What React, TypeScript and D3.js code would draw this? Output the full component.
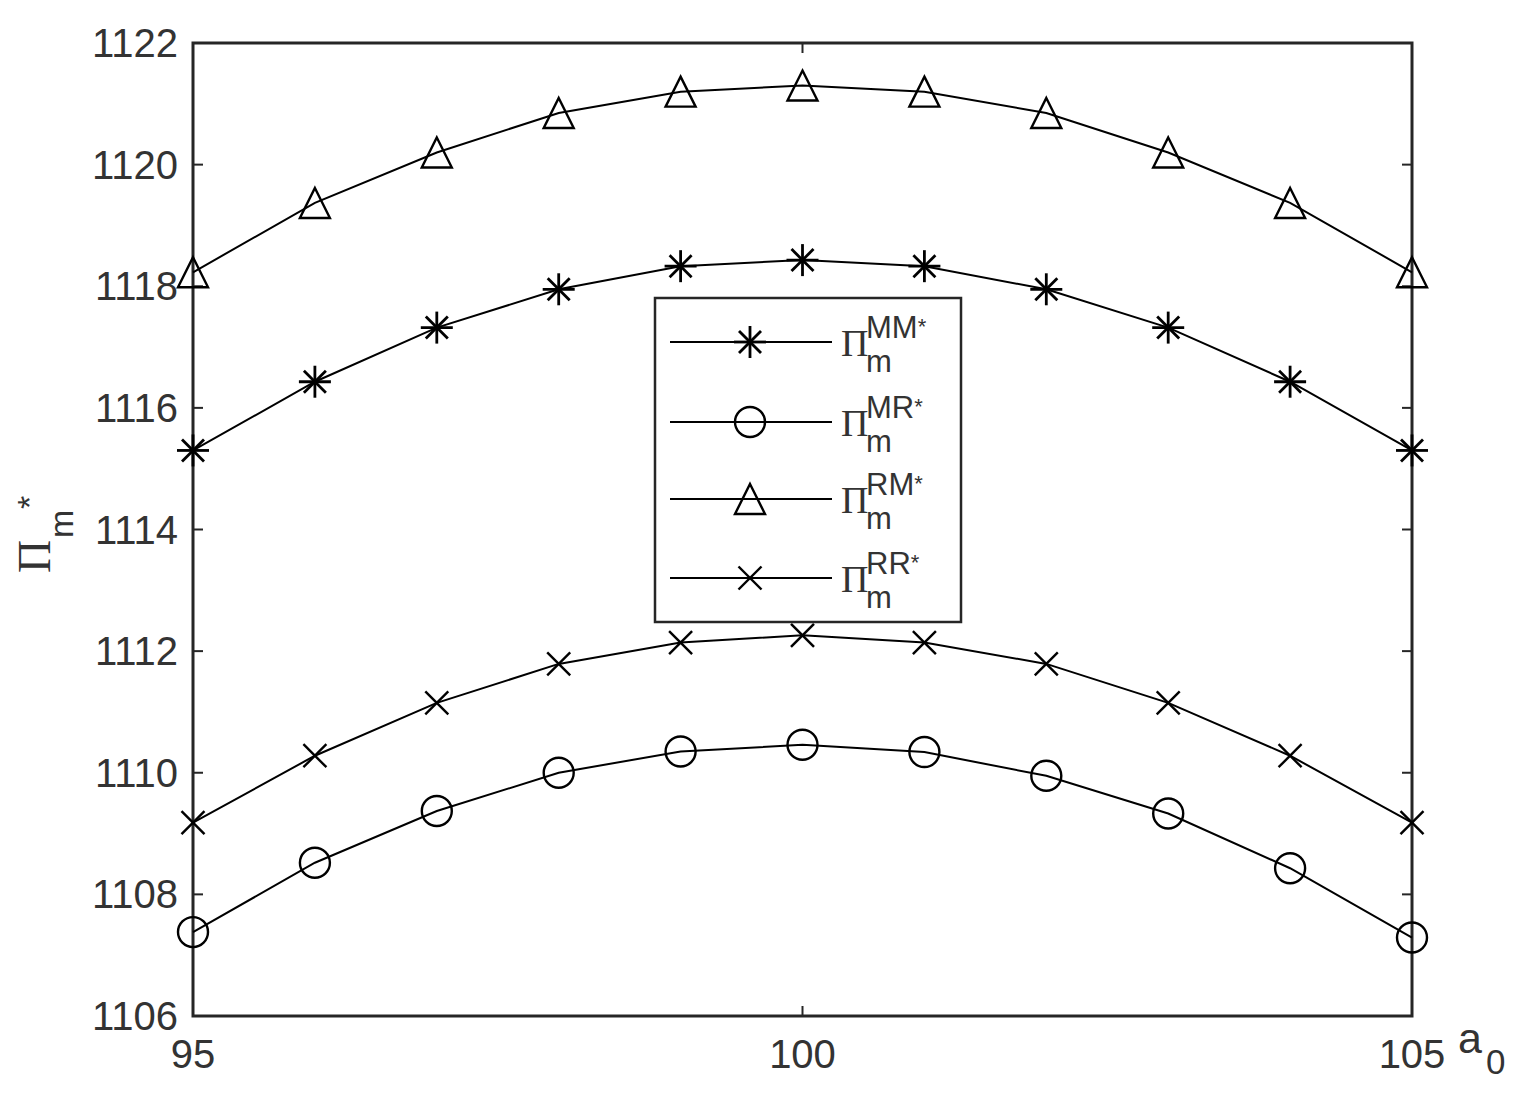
import React from "react";
import * as d3 from "d3";

const a0Values = [95, 96, 97, 98, 99, 100, 101, 102, 103, 104, 105];
const piMM = [1115.3, 1116.43, 1117.32, 1117.95, 1118.33, 1118.43, 1118.33, 1117.95, 1117.32, 1116.43, 1115.3];
const piMR = [1107.38, 1108.52, 1109.37, 1110.0, 1110.35, 1110.46, 1110.34, 1109.95, 1109.33, 1108.43, 1107.29];
const piRM = [1118.23, 1119.37, 1120.2, 1120.85, 1121.2, 1121.3, 1121.2, 1120.85, 1120.2, 1119.37, 1118.23];
const piRR = [1109.18, 1110.28, 1111.15, 1111.79, 1112.14, 1112.26, 1112.14, 1111.79, 1111.15, 1110.28, 1109.18];
const xTicks = [95, 100, 105];
const yTicks = [1106, 1108, 1110, 1112, 1114, 1116, 1118, 1120, 1122];
const seriesNames = ["MM", "MR", "RM", "RR"];
const seriesMarkers = ["star", "circle", "triangle", "x"];

const W = 1530, H = 1107;
const L = 193, R = 1412, T = 43, B = 1016;
const AX = "#262626";
const SANS = "'Liberation Sans', Arial, sans-serif";
const SERIF = "'Liberation Serif', 'Times New Roman', serif";

function Marker({ type, cx, cy }: { type: string; cx: number; cy: number }) {
  const sw = 2.4;
  if (type === "star") {
    const r = 16, d = 11;
    return (
      <g stroke="#000" strokeWidth={2.8}>
        <line x1={cx - r} y1={cy} x2={cx + r} y2={cy} />
        <line x1={cx} y1={cy - r} x2={cx} y2={cy + r} />
        <line x1={cx - d} y1={cy - d} x2={cx + d} y2={cy + d} />
        <line x1={cx - d} y1={cy + d} x2={cx + d} y2={cy - d} />
      </g>
    );
  }
  if (type === "circle") {
    return <circle cx={cx} cy={cy} r={15} fill="none" stroke="#000" strokeWidth={sw} />;
  }
  if (type === "triangle") {
    const h = 15;
    return (
      <polygon
        points={`${cx},${cy - h} ${cx + h},${cy + h} ${cx - h},${cy + h}`}
        fill="none"
        stroke="#000"
        strokeWidth={sw}
      />
    );
  }
  const d = 11.5;
  return (
    <g stroke="#000" strokeWidth={sw}>
      <line x1={cx - d} y1={cy - d} x2={cx + d} y2={cy + d} />
      <line x1={cx - d} y1={cy + d} x2={cx + d} y2={cy - d} />
    </g>
  );
}

export default function App() {
  const x = d3.scaleLinear().domain([95, 105]).range([L, R]);
  const y = d3.scaleLinear().domain([1106, 1122]).range([B, T]);
  const allSeries = [piMM, piMR, piRM, piRR];
  const line = d3
    .line<number>()
    .x((_, i) => x(a0Values[i]))
    .y((v) => y(v));

  const legX = 655, legY = 298, legW = 306, legH = 324;
  const legRows = [342, 422, 499, 578];

  return (
    <svg width={W} height={H} style={{ position: "absolute", left: 0, top: 0, background: "#fff" }}>
      <rect x={0} y={0} width={W} height={H} fill="#fff" />
      <rect x={L} y={T} width={R - L} height={B - T} fill="none" stroke={AX} strokeWidth={3} />
      {yTicks.map((t) => (
        <g key={"y" + t}>
          <line x1={L} x2={L + 10} y1={y(t)} y2={y(t)} stroke={AX} strokeWidth={2} />
          <line x1={R} x2={R - 10} y1={y(t)} y2={y(t)} stroke={AX} strokeWidth={2} />
          <text x={178} y={y(t) + 14} textAnchor="end" fontFamily={SANS} fontSize={40} fill="#333">
            {t}
          </text>
        </g>
      ))}
      {xTicks.map((t) => (
        <g key={"x" + t}>
          <line x1={x(t)} x2={x(t)} y1={B} y2={B - 10} stroke={AX} strokeWidth={2} />
          <line x1={x(t)} x2={x(t)} y1={T} y2={T + 10} stroke={AX} strokeWidth={2} />
          <text x={x(t)} y={1068} textAnchor="middle" fontFamily={SANS} fontSize={40} fill="#333">
            {t}
          </text>
        </g>
      ))}
      <text x={1458} y={1053} fontFamily={SANS} fontSize={43} fill="#333">a</text>
      <text x={1486} y={1074} fontFamily={SANS} fontSize={35} fill="#333">0</text>
      <g transform="translate(50,573) rotate(-90)">
        <text x={0} y={0} fontFamily={SERIF} fontSize={46} fill="#333">Π</text>
        <text x={35} y={23} fontFamily={SANS} fontSize={34} fill="#333">m</text>
        <text x={64} y={-9} fontFamily={SANS} fontSize={34} fill="#333">*</text>
      </g>

      {allSeries.map((s, si) => (
        <g key={"s" + si}>
          <path d={line(s) || ""} fill="none" stroke="#000" strokeWidth={2} />
          {s.map((v, i) => (
            <Marker key={i} type={seriesMarkers[si]} cx={x(a0Values[i])} cy={y(v)} />
          ))}
        </g>
      ))}

      <rect x={legX} y={legY} width={legW} height={legH} fill="#fff" stroke={AX} strokeWidth={2.5} />
      {seriesNames.map((nm, i) => {
        const ly = legRows[i];
        return (
          <g key={"l" + i}>
            <line x1={670} x2={832} y1={ly} y2={ly} stroke="#000" strokeWidth={2} />
            <Marker type={seriesMarkers[i]} cx={750} cy={ly} />
            <text x={841} y={ly + 14} fontFamily={SERIF} fontSize={38} fill="#333">Π</text>
            <text x={866} y={ly - 4} fontFamily={SANS} fontSize={31} fill="#333">
              {nm}
              <tspan fontSize={22} dy={-4}>*</tspan>
            </text>
            <text x={866} y={ly + 30} fontFamily={SANS} fontSize={31} fill="#333">m</text>
          </g>
        );
      })}
    </svg>
  );
}
